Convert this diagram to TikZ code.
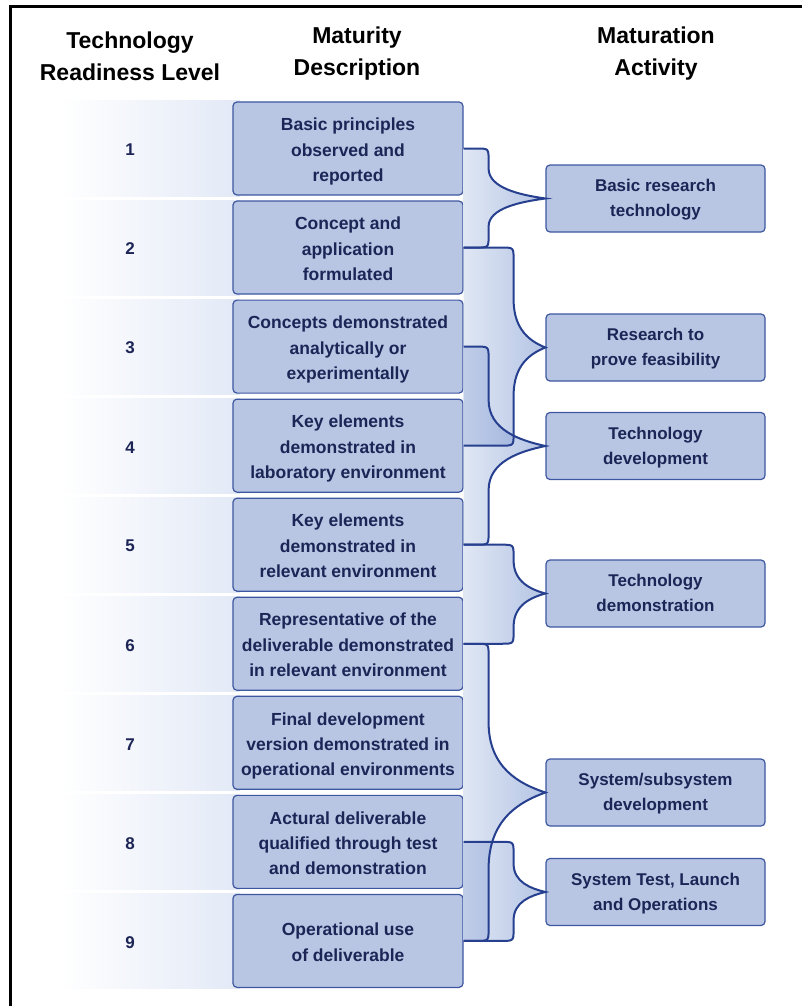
\documentclass[tikz,border=0pt]{standalone}
\usepackage{fontspec}
\setmainfont{Liberation Sans}
\usetikzlibrary{calc}
\definecolor{boxfill}{RGB}{184,198,228}
\definecolor{boxline}{RGB}{61,86,160}
\definecolor{navy}{RGB}{28,37,86}
\definecolor{wire}{RGB}{38,63,143}
\definecolor{bandblue}{RGB}{226,233,246}
\definecolor{fillL}{RGB}{224,231,244}
\definecolor{fillR}{RGB}{180,196,228}
\definecolor{ovlL}{RGB}{192,205,232}
\definecolor{ovlR}{RGB}{150,172,218}
\newcommand\mstrut{\rule{0pt}{22pt}}
\newcommand\astrut{\rule{0pt}{18pt}}
\newcommand\dstrut{\rule[-7pt]{0pt}{7pt}}
\tikzset{
 matbox/.style={draw=boxline, fill=boxfill, line width=1.2pt, rounded corners=4pt,
   minimum width=230pt, minimum height=93pt, inner sep=0pt, align=center, text=navy,
   font=\fontsize{17.5}{25.3}\selectfont\bfseries},
 actbox/.style={matbox, minimum width=219pt, minimum height=67pt,
   font=\fontsize{17}{25}\selectfont\bfseries},
 lvl/.style={text=navy, font=\fontsize{17}{20}\selectfont\bfseries},
 header/.style={text=black, align=center, font=\fontsize{23}{32}\selectfont\bfseries},
 wireline/.style={draw=wire, line width=2pt},
 bracefill/.style={left color=fillL, right color=fillR},
 overlapfill/.style={left color=ovlL, right color=ovlR},
 band/.style={left color=white, right color=bandblue, draw=none},
 frameline/.style={draw=black, line width=3pt},
}
% #1 top box, #2 activity box, #3 bottom box, #4 x offset of vertical run, #5 top curve height, #6 bottom curve height
\newcommand\bracecurve[6]{let \p1=(#1.east), \p2=(#2.west), \p3=(#3.east), \p4=($(#1.east)+(#4pt,0pt)$) in
  (\p1) -- (\x4-12pt,\y1) .. controls (\x4,\y1) .. (\x4,\y1-12pt)
  -- (\x4,\y2+#5pt) .. controls (\x4,\y2+0.35*#5pt) and ({\x2-0.45*(\x2-\x4)},\y2+0.12*#5pt) .. (\p2)
  .. controls ({\x2-0.45*(\x2-\x4)},\y2-0.12*#6pt) and (\x4,\y2-0.35*#6pt) .. (\x4,\y2-#6pt)
  -- (\x4,\y3+12pt) .. controls (\x4,\y3) .. (\x4-12pt,\y3) -- (\p3)}
\begin{document}
\begin{tikzpicture}[x=1pt,y=-1pt]
\useasboundingbox (0,0) rectangle (802,1006);
% frame
\draw[frameline] (10.5,1006) -- (10.5,6.5) -- (802,6.5);
% headers
\node[header] (h1) at (130,56) {Technology\\Readiness Level};
\node[header] (h2) at (357,54) {Maturity\\Description};
\node[header] (h3) at (656,54) {Maturation\\Activity};
% bands
\foreach \i in {0,...,8}{
  \shade[band] (60,{101+\i*99.05}) rectangle (240,{196+\i*99.05});
}
% level numbers
\foreach \i in {1,...,9}{
  \node[lvl] (l\i) at (130,{150+(\i-1)*99.05}) {\i};
}
% maturity box positions
\path (348,148.5) coordinate (c1) (348,247.55) coordinate (c2) (348,346.6) coordinate (c3)
      (348,445.65) coordinate (c4) (348,544.7) coordinate (c5) (348,643.75) coordinate (c6)
      (348,742.8) coordinate (c7) (348,841.85) coordinate (c8) (348,940.9) coordinate (c9);
\node[matbox] (m1) at (c1) {\mstrut Basic principles\\observed and\\reported\dstrut};
\node[matbox] (m2) at (c2) {\mstrut Concept and\\application\\formulated\dstrut};
\node[matbox] (m3) at (c3) {\mstrut Concepts demonstrated\\analytically or\\experimentally\dstrut};
\node[matbox] (m4) at (c4) {\mstrut Key elements\\demonstrated in\\laboratory environment\dstrut};
\node[matbox] (m5) at (c5) {\mstrut Key elements\\demonstrated in\\relevant environment\dstrut};
\node[matbox] (m6) at (c6) {\mstrut Representative of the\\deliverable demonstrated\\in relevant environment\dstrut};
\node[matbox] (m7) at (c7) {\mstrut Final development\\version demonstrated in\\operational environments\dstrut};
\node[matbox] (m8) at (c8) {\mstrut Actural deliverable\\qualified through test\\and demonstration\dstrut};
\node[matbox] (m9) at (c9) {\mstrut Operational use\\of deliverable\dstrut};
% activity boxes
\node[actbox] (a1) at (655.5,198.5) {\astrut Basic research\\technology\dstrut};
\node[actbox] (a2) at (655.5,347.5) {\astrut Research to\\prove feasibility\dstrut};
\node[actbox] (a3) at (655.5,446) {\astrut Technology\\development\dstrut};
\node[actbox] (a4) at (655.5,593.5) {\astrut Technology\\demonstration\dstrut};
\node[actbox] (a5) at (655.5,792.5) {\astrut System/subsystem\\development\dstrut};
\node[actbox] (a6) at (655.5,892) {\astrut System Test, Launch\\and Operations\dstrut};
% brace fills
\path[bracefill] \bracecurve{m1}{a1}{m2}{25}{30}{28} -- cycle;
\path[bracefill] \bracecurve{m2}{a2}{m4}{50}{48}{48} -- cycle;
\path[bracefill] \bracecurve{m3}{a3}{m5}{25}{46}{44} -- cycle;
\path[bracefill] \bracecurve{m5}{a4}{m6}{50}{33}{33} -- cycle;
\path[bracefill] \bracecurve{m6}{a5}{m9}{25}{70}{76} -- cycle;
\path[bracefill] \bracecurve{m8}{a6}{m9}{50}{28}{28} -- cycle;
% overlaps of neighbouring braces
\begin{scope}
  \clip \bracecurve{m2}{a2}{m4}{50}{48}{48} -- cycle;
  \path[overlapfill] \bracecurve{m3}{a3}{m5}{25}{46}{44} -- cycle;
\end{scope}
\begin{scope}
  \clip \bracecurve{m8}{a6}{m9}{50}{28}{28} -- cycle;
  \path[overlapfill] \bracecurve{m6}{a5}{m9}{25}{70}{76} -- cycle;
\end{scope}
% brace lines
\draw[wireline] \bracecurve{m1}{a1}{m2}{25}{30}{28};
\draw[wireline] \bracecurve{m2}{a2}{m4}{50}{48}{48};
\draw[wireline] \bracecurve{m3}{a3}{m5}{25}{46}{44};
\draw[wireline] \bracecurve{m5}{a4}{m6}{50}{33}{33};
\draw[wireline] \bracecurve{m6}{a5}{m9}{25}{70}{76};
\draw[wireline] \bracecurve{m8}{a6}{m9}{50}{28}{28};
\end{tikzpicture}
\end{document}
